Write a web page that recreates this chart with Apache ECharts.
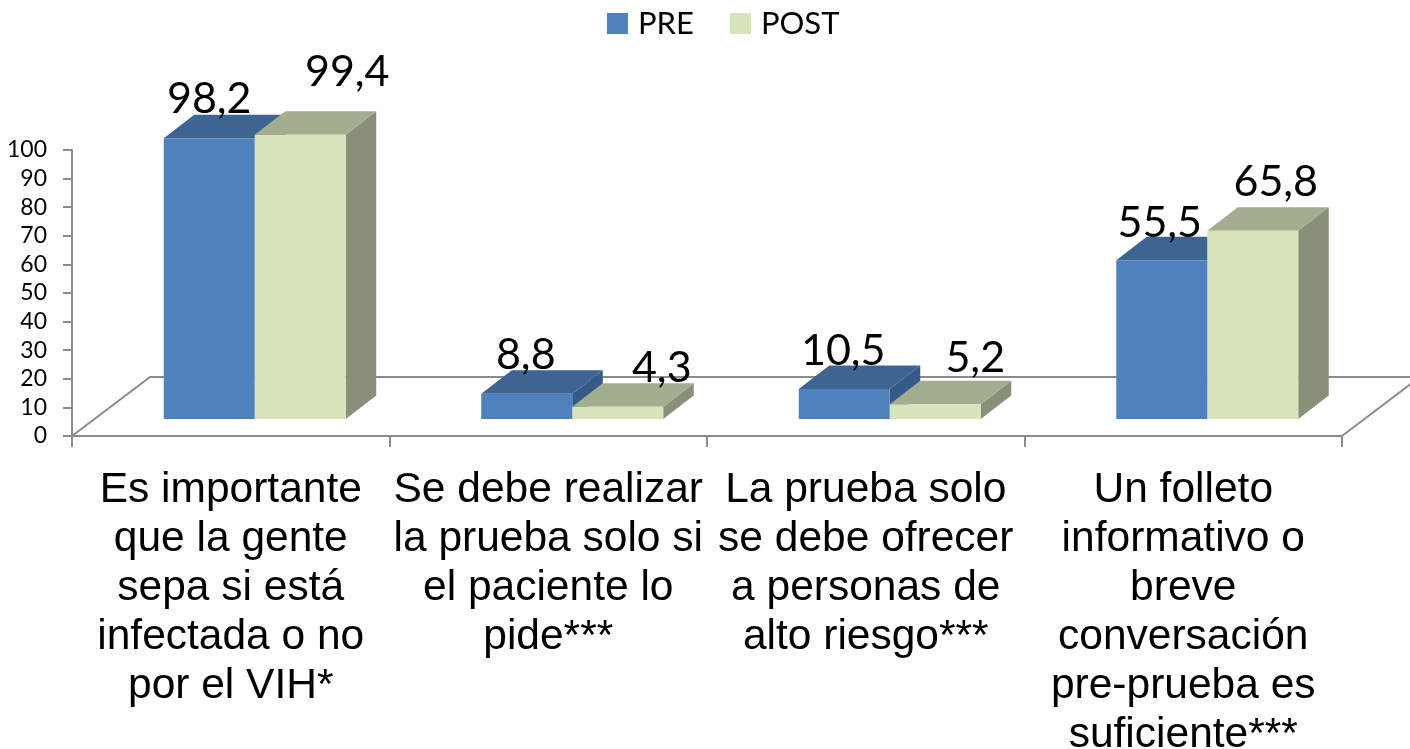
<!DOCTYPE html>
<html>
<head>
<meta charset="utf-8">
<style>html,body{margin:0;padding:0;background:#fff}#chart{width:1410px;height:749px}</style>
<script src="https://cdn.jsdelivr.net/npm/echarts@6/dist/echarts.min.js"></script>
</head>
<body>
<div id="chart"></div>
<script>
const categories = [
  'Es importante\nque la gente\nsepa si está\ninfectada o no\npor el VIH*',
  'Se debe realizar\nla prueba solo si\nel paciente lo\npide***',
  'La prueba solo\nse debe ofrecer\na personas de\nalto riesgo***',
  'Un folleto\ninformativo o\nbreve\nconversación\npre-prueba es\nsuficiente***'
];
const preValues = [98.2, 8.8, 10.5, 55.5];
const postValues = [99.4, 4.3, 5.2, 65.8];

// 3d look, all in px
const depthX = 30.5, depthY = 23.5, lift = 17;
const floorX = 78, floorY = 59, groupShift = 24, barShare = 0.2866;
// hand placed labels in the original: [dx from bar centre, dy from front top]
const preNudge = [[0, -39], [-1, -39], [-1, -38], [-2, -37]];
const postNudge = [[47, -63], [44, -39], [40, -46], [23, -49]];

const fmt = v => String(v).replace('.', ',');

function barRender(side, colors, nudge) {
  return function (params, api) {
    const i = api.value(0), v = api.value(1);
    const band = api.size([1, 0])[0];
    const w = band * barShare;
    const base = api.coord([i, 0]);
    const top = api.coord([i, v]);
    const x0 = base[0] + groupShift + (side === 0 ? -w : 0);
    const x1 = x0 + w;
    const yb = base[1] - lift, yt = top[1] - lift;
    const poly = (pts, fill) => ({type: 'polygon', shape: {points: pts}, style: {fill: fill}});
    return {
      type: 'group',
      children: [
        poly([[x1, yt], [x1 + depthX, yt - depthY], [x1 + depthX, yb - depthY], [x1, yb]], colors.side),
        poly([[x0, yt], [x0 + depthX, yt - depthY], [x1 + depthX, yt - depthY], [x1, yt]], colors.top),
        poly([[x0, yt], [x1, yt], [x1, yb], [x0, yb]], colors.front),
        {
          type: 'text',
          z2: 20,
          style: {
            x: (x0 + x1) / 2 + nudge[i][0],
            y: yt + nudge[i][1],
            text: fmt(v),
            fill: '#000',
            font: '43px Lato',
            align: 'center',
            verticalAlign: 'middle'
          }
        }
      ]
    };
  };
}

function floorRender(params, api) {
  const band = api.size([1, 0])[0];
  const a = api.coord([0, 0]), b = api.coord([categories.length - 1, 0]);
  const left = a[0] - band / 2, right = b[0] + band / 2, y = a[1];
  const line = {stroke: '#8b8b8b', lineWidth: 2, fill: null};
  return {
    type: 'group',
    children: [
      {type: 'polyline', shape: {points: [[left, y], [left + floorX, y - floorY], [right + floorX, y - floorY]]}, style: line},
      {type: 'line', shape: {x1: right, y1: y, x2: right + floorX, y2: y - floorY}, style: line}
    ]
  };
}

const chart = echarts.init(document.getElementById('chart'), null, {renderer: 'canvas'});
chart.setOption({
  animation: false,
  legend: {
    data: ['PRE', 'POST'],
    left: 607,
    top: 8,
    padding: 0,
    icon: 'rect',
    itemWidth: 21,
    itemHeight: 21,
    itemGap: 36,
    textStyle: {fontFamily: 'Lato', fontSize: 31, color: '#000', padding: [0, 0, 0, 5]}
  },
  grid: {left: 72, right: 68, top: 150, bottom: 313, outerBoundsMode: 'none'},
  xAxis: {
    type: 'category',
    data: categories,
    axisLine: {lineStyle: {color: '#8b8b8b', width: 2}},
    axisTick: {show: true, length: 11, lineStyle: {color: '#8b8b8b', width: 2}},
    axisLabel: {
      interval: 0,
      margin: 30,
      fontFamily: 'Liberation Sans',
      fontSize: 42.5,
      lineHeight: 49,
      color: '#000'
    }
  },
  yAxis: {
    type: 'value',
    min: 0,
    max: 100,
    interval: 10,
    splitLine: {show: false},
    axisLine: {show: true, lineStyle: {color: '#8b8b8b', width: 2}},
    axisTick: {show: true, length: 9, lineStyle: {color: '#8b8b8b', width: 2}},
    axisLabel: {margin: 25, fontFamily: 'Lato', fontSize: 23, color: '#000'}
  },
  series: [
    {
      name: 'floor',
      type: 'custom',
      silent: true,
      clip: false,
      renderItem: floorRender,
      data: [[0, 0]],
      encode: {x: 0, y: 1}
    },
    {
      name: 'PRE',
      type: 'custom',
      clip: false,
      itemStyle: {color: '#4F81BD'},
      renderItem: barRender(0, {front: '#4F81BD', top: '#3E6492', side: '#355A87'}, preNudge),
      data: preValues.map((v, i) => [i, v]),
      encode: {x: 0, y: 1}
    },
    {
      name: 'POST',
      type: 'custom',
      clip: false,
      itemStyle: {color: '#D7E4BC'},
      renderItem: barRender(1, {front: '#D7E4BC', top: '#A3AD90', side: '#89907A'}, postNudge),
      data: postValues.map((v, i) => [i, v]),
      encode: {x: 0, y: 1}
    }
  ]
});
</script>
</body>
</html>
